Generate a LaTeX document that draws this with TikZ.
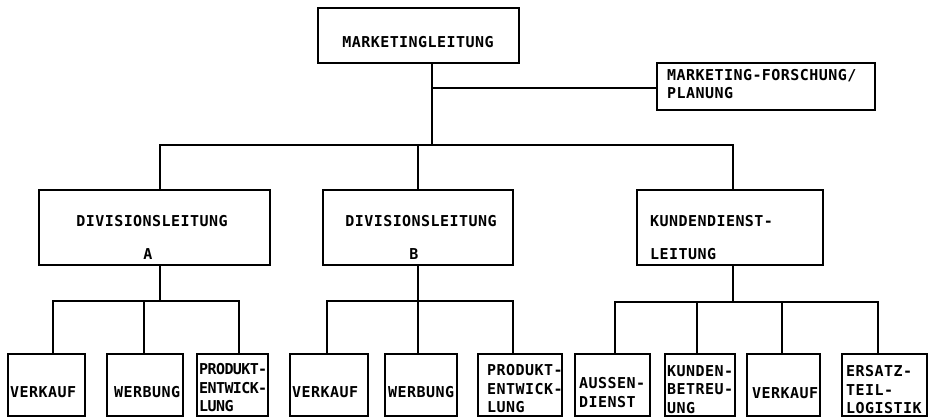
\documentclass[tikz,border=0pt]{standalone}
\usepackage{fontspec}
\newfontfamily\pf{DejaVu Sans Mono}[LetterSpace=3]
\newfontfamily\pft{DejaVu Sans Mono}[LetterSpace=-4]
\begin{document}
\begin{tikzpicture}[x=1pt,y=-1pt,
  box/.style={draw, line width=1.7pt, inner sep=0pt},
  con/.style={line width=1.7pt},
  txt/.style={inner sep=0pt, font=\pf\bfseries\fontsize{15}{18.5}\selectfont, align=left},
  tight/.style={font=\pft\bfseries\fontsize{15}{18.5}\selectfont},
  ]
\useasboundingbox[fill=white] (0,0) rectangle (932,417);
% boxes
\node[box, minimum width=201pt, minimum height=55pt] (ml) at (418.5,35.5) {};
\node[box, minimum width=218pt, minimum height=47pt] (st) at (766,86.5) {};
\node[box, minimum width=231pt, minimum height=75pt] (dla) at (154.5,227.5) {};
\node[box, minimum width=190pt, minimum height=75pt] (dlb) at (418,227.5) {};
\node[box, minimum width=186pt, minimum height=75pt] (kd) at (730,227.5) {};
% bottom row
\node[box, minimum width=77pt, minimum height=62pt] (va) at (46.5,385) {};
\node[box, minimum width=76pt, minimum height=62pt] (wa) at (145,385) {};
\node[box, minimum width=71pt, minimum height=62pt] (pa) at (232.5,385) {};
\node[box, minimum width=78pt, minimum height=62pt] (vb) at (329,385) {};
\node[box, minimum width=72pt, minimum height=62pt] (wb) at (421,385) {};
\node[box, minimum width=84pt, minimum height=62pt] (pb) at (520,385) {};
\node[box, minimum width=75pt, minimum height=62pt] (ad) at (612.5,385) {};
\node[box, minimum width=70pt, minimum height=62pt] (kb) at (700,385) {};
\node[box, minimum width=73pt, minimum height=62pt] (vk) at (783.5,385) {};
\node[box, minimum width=85pt, minimum height=62pt] (el) at (884.5,385) {};
% texts
\node[txt] (tml) at (418,42) {MARKETINGLEITUNG};
\node[txt, anchor=west] (tst) at (667,84) {MARKETING-FORSCHUNG/\\PLANUNG};
\node[txt] (tdla) at (152,221) {DIVISIONSLEITUNG};
\node[txt] (tdla2) at (148,254) {A};
\node[txt] (tdlb) at (421,221) {DIVISIONSLEITUNG};
\node[txt] (tdlb2) at (414,254) {B};
\node[txt, anchor=west] (tkd) at (650,221) {KUNDENDIENST-};
\node[txt, anchor=west] (tkd2) at (650,254) {LEITUNG};
\node[txt, anchor=west] (tva) at (10,392) {VERKAUF};
\node[txt, anchor=west] (twa) at (114,392) {WERBUNG};
\node[txt, tight, anchor=west] (tpa) at (199,388) {PRODUKT-\\ENTWICK-\\LUNG};
\node[txt, anchor=west] (tvb) at (292,392) {VERKAUF};
\node[txt, anchor=west] (twb) at (388,392) {WERBUNG};
\node[txt, anchor=west] (tpb) at (487,389) {PRODUKT-\\ENTWICK-\\LUNG};
\node[txt, anchor=west] (tad) at (579,392.5) {AUSSEN-\\DIENST};
\node[txt, anchor=west] (tkb) at (667,389.5) {KUNDEN-\\BETREU-\\UNG};
\node[txt, anchor=west] (tvk) at (752,393) {VERKAUF};
\node[txt, anchor=west] (tel) at (846,390) {ERSATZ-\\TEIL-\\LOGISTIK};
% junctions
\coordinate (j0) at (432,145);
\coordinate (js) at (432,88);
\coordinate (ja) at (160,301);
\coordinate (jb) at (418,301);
\coordinate (jk) at (733,302);
% connectors top
\draw[con] (ml.south -| j0) -- (j0);
\draw[con] (js) -- (st.west |- js);
\draw[con] ([xshift=5.5pt]dla.north) |- (j0) -| ([xshift=3pt]kd.north);
\draw[con] (dlb.north) -- (dlb.north |- j0);
% lower A
\draw[con] ([xshift=5.5pt]dla.south) -- (ja);
\draw[con] ([xshift=6.5pt]va.north) |- (ja) -| ([xshift=6.5pt]pa.north);
\draw[con] ([xshift=-1pt]wa.north) -- ([xshift=-1pt]wa.north |- ja);
% lower B
\draw[con] (dlb.south) -- (jb);
\draw[con] ([xshift=-2pt]vb.north) |- (jb) -| ([xshift=-7pt]pb.north);
\draw[con] ([xshift=-3pt]wb.north) -- ([xshift=-3pt]wb.north |- jb);
% lower KD
\draw[con] ([xshift=3pt]kd.south) -- (jk);
\draw[con] ([xshift=2.5pt]ad.north) |- (jk) -| ([xshift=-6.5pt]el.north);
\draw[con] ([xshift=-3pt]kb.north) -- ([xshift=-3pt]kb.north |- jk);
\draw[con] ([xshift=-1.5pt]vk.north) -- ([xshift=-1.5pt]vk.north |- jk);
\end{tikzpicture}
\end{document}
